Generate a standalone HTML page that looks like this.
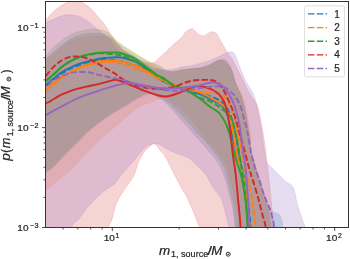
<!DOCTYPE html>
<html><head><meta charset="utf-8"><style>
html,body{margin:0;padding:0;background:#fff;width:350px;height:259px;overflow:hidden}
svg{display:block;will-change:transform}
text{font-family:"Liberation Sans",sans-serif}
</style></head><body>
<svg width="350" height="259" viewBox="0 0 350 259"><defs><clipPath id="ax"><rect x="45.5" y="1.5" width="303.0" height="226.0"/></clipPath></defs>
<g clip-path="url(#ax)">
<path d="M38.0,68.0 C39.2,66.6 43.2,61.9 45.5,59.5 C47.8,57.1 49.7,55.6 52.0,53.5 C54.3,51.4 56.9,49.0 59.4,47.0 C61.9,45.0 64.4,43.2 67.0,41.5 C69.6,39.8 72.1,38.2 74.9,37.0 C77.7,35.8 81.2,34.9 84.0,34.3 C86.8,33.7 89.3,33.3 92.0,33.2 C94.7,33.1 97.7,33.2 100.0,33.5 C102.3,33.8 104.0,34.2 106.0,35.0 C108.0,35.8 109.7,36.4 112.0,38.5 C114.3,40.6 118.1,45.4 120.0,47.5 C121.9,49.6 121.6,49.7 123.5,51.0 C125.4,52.3 129.3,54.2 131.6,55.5 C133.8,56.8 135.1,57.8 137.0,59.0 C138.9,60.2 141.0,61.3 143.2,62.5 C145.4,63.7 148.1,65.1 150.0,66.0 C151.9,66.9 153.1,67.6 154.8,68.0 C156.5,68.4 157.8,67.9 160.0,68.5 C162.2,69.1 165.5,71.0 168.0,71.5 C170.5,72.0 172.6,71.8 175.0,71.5 C177.4,71.2 179.7,70.4 182.4,70.0 C185.1,69.6 188.1,69.3 191.0,69.0 C193.9,68.7 196.9,68.6 199.8,68.0 C202.7,67.4 206.0,66.5 208.5,65.5 C211.0,64.5 213.1,62.9 215.0,62.0 C216.9,61.1 218.3,60.5 220.0,60.3 C221.7,60.1 223.7,60.3 225.0,61.0 C226.3,61.7 226.9,62.8 228.0,64.5 C229.1,66.2 230.5,68.6 231.5,71.0 C232.5,73.4 233.0,76.2 234.0,79.0 C235.0,81.8 236.4,85.3 237.5,88.0 C238.6,90.7 239.6,92.5 240.5,95.0 C241.4,97.5 242.2,100.3 243.0,103.0 C243.8,105.7 244.4,108.2 245.0,111.0 C245.6,113.8 246.2,116.8 246.8,120.0 C247.4,123.2 247.8,126.7 248.3,130.0 C248.8,133.3 249.5,136.3 250.0,140.0 C250.5,143.7 250.8,148.0 251.5,152.0 C252.2,156.0 253.5,160.0 254.5,164.0 C255.5,168.0 256.4,172.0 257.5,176.0 C258.6,180.0 259.8,184.3 261.0,188.0 C262.2,191.7 263.4,195.2 264.5,198.0 C265.6,200.8 266.6,203.0 267.5,205.0 C268.4,207.0 269.1,208.8 270.0,210.0 C270.9,211.2 271.9,211.5 273.0,212.0 C274.1,212.5 275.4,212.7 276.5,213.2 C277.6,213.7 278.9,213.9 279.7,215.0 C280.5,216.1 280.9,217.8 281.5,220.0 C282.1,222.2 282.6,223.8 283.0,228.0 C283.4,232.2 283.8,242.2 284.0,245.0 L271.0,245.0 C265.2,245.0 242.0,248.0 236.0,245.0 C230.0,242.0 235.5,232.8 235.0,227.0 C234.5,221.2 233.7,214.5 233.0,210.0 C232.3,205.5 231.6,202.7 231.0,200.0 C230.4,197.3 230.0,196.6 229.3,194.0 C228.6,191.4 227.9,187.8 227.0,184.7 C226.1,181.6 225.0,178.3 223.9,175.4 C222.8,172.5 221.9,169.7 220.5,167.0 C219.1,164.3 217.5,161.7 215.5,159.0 C213.5,156.3 210.8,153.7 208.5,151.0 C206.2,148.3 204.1,145.6 201.8,143.0 C199.6,140.4 197.1,137.9 195.0,135.5 C192.9,133.1 191.2,131.0 189.0,128.5 C186.8,126.0 184.3,123.2 182.0,120.5 C179.7,117.8 177.3,115.1 175.0,112.5 C172.7,109.9 170.2,107.2 168.0,105.0 C165.8,102.8 164.0,100.9 162.0,99.5 C160.0,98.1 158.0,97.4 156.0,96.5 C154.0,95.6 152.7,93.8 150.0,94.0 C147.3,94.2 144.7,95.2 140.0,97.5 C135.3,99.8 127.8,104.5 122.0,108.0 C116.2,111.5 110.6,114.6 105.0,118.5 C99.4,122.4 92.7,127.9 88.5,131.5 C84.3,135.1 82.9,137.1 80.0,140.0 C77.1,142.9 74.0,146.0 71.0,149.0 C68.0,152.0 64.9,155.0 62.0,158.0 C59.1,161.0 56.3,164.4 53.5,167.0 C50.7,169.6 47.6,171.5 45.0,173.5 C42.4,175.5 39.2,178.1 38.0,179.0 Z" fill="#1f77b4" fill-opacity="0.200" stroke="#1f77b4" stroke-opacity="0.180" stroke-width="0.8"/>
<path d="M38.0,70.0 C39.2,68.6 43.2,63.9 45.5,61.5 C47.8,59.1 49.7,57.6 52.0,55.5 C54.3,53.4 56.9,51.0 59.4,49.0 C61.9,47.0 64.4,45.1 67.0,43.5 C69.6,41.9 72.1,40.6 74.9,39.5 C77.7,38.4 81.2,37.6 84.0,37.0 C86.8,36.4 89.3,36.2 92.0,36.0 C94.7,35.8 97.7,35.8 100.0,36.0 C102.3,36.2 104.0,36.6 106.0,37.0 C108.0,37.4 109.7,37.2 112.0,38.5 C114.3,39.8 117.8,42.9 120.0,44.5 C122.2,46.1 123.3,46.9 125.0,48.0 C126.7,49.1 128.3,49.8 130.3,51.0 C132.3,52.2 134.8,54.1 137.0,55.5 C139.2,56.9 141.6,58.2 143.8,59.5 C146.0,60.8 148.1,62.0 150.0,63.0 C151.9,64.0 153.3,64.4 155.0,65.5 C156.7,66.6 157.8,68.4 160.0,69.5 C162.2,70.6 165.5,71.5 168.0,72.0 C170.5,72.5 172.6,72.8 175.0,72.5 C177.4,72.2 179.7,71.0 182.4,70.5 C185.1,70.0 188.1,69.8 191.0,69.5 C193.9,69.2 196.9,69.1 199.8,68.5 C202.7,67.9 206.0,67.0 208.5,66.0 C211.0,65.0 213.1,63.3 215.0,62.5 C216.9,61.7 218.3,61.0 220.0,61.0 C221.7,61.0 223.6,61.7 225.0,62.4 C226.4,63.1 227.3,63.6 228.5,65.0 C229.7,66.4 231.0,68.5 232.0,71.0 C233.0,73.5 233.5,77.0 234.6,79.8 C235.7,82.6 237.3,85.5 238.5,88.0 C239.7,90.5 241.0,92.5 242.0,95.0 C243.0,97.5 243.8,100.3 244.5,103.0 C245.2,105.7 245.9,108.3 246.5,111.0 C247.1,113.7 247.5,116.2 248.0,119.0 C248.5,121.8 249.0,125.2 249.5,128.0 C250.0,130.8 250.6,132.7 250.8,136.0 C251.0,139.3 250.0,144.0 250.5,148.0 C251.0,152.0 252.8,156.0 254.0,160.0 C255.2,164.0 256.3,168.0 257.5,172.0 C258.7,176.0 259.8,180.0 261.0,184.0 C262.2,188.0 263.4,192.0 264.5,196.0 C265.6,200.0 266.7,204.3 267.5,208.0 C268.3,211.7 268.9,214.8 269.5,218.0 C270.1,221.2 270.7,222.5 271.0,227.0 C271.3,231.5 271.4,242.0 271.5,245.0 L269.0,245.0 C264.2,245.0 245.0,248.0 240.0,245.0 C235.0,242.0 239.5,232.8 239.0,227.0 C238.5,221.2 237.7,214.5 237.0,210.0 C236.3,205.5 235.7,203.3 235.0,200.0 C234.3,196.7 233.8,193.3 233.0,190.0 C232.2,186.7 231.3,183.3 230.5,180.0 C229.7,176.7 228.8,172.3 228.1,170.0 C227.4,167.7 227.2,168.1 226.1,166.1 C225.0,164.1 223.2,160.7 221.4,158.0 C219.6,155.3 217.5,152.6 215.3,149.9 C213.2,147.2 210.7,144.3 208.5,141.8 C206.3,139.3 204.4,137.6 202.4,135.0 C200.4,132.4 198.7,129.1 196.3,126.0 C193.9,122.9 190.6,119.3 188.0,116.5 C185.4,113.7 183.3,111.1 180.9,109.0 C178.5,106.9 175.8,105.6 173.7,104.0 C171.6,102.4 169.9,100.7 168.5,99.5 C167.1,98.3 167.8,96.6 165.0,97.0 C162.2,97.4 156.2,100.4 152.0,102.0 C147.8,103.6 143.9,104.2 139.8,106.5 C135.7,108.8 131.7,112.7 127.6,116.0 C123.5,119.3 119.2,123.3 115.4,126.5 C111.6,129.7 108.4,132.0 105.0,135.0 C101.6,138.0 97.8,141.8 95.0,144.5 C92.2,147.2 90.5,148.9 88.0,151.5 C85.5,154.1 82.9,156.9 80.0,160.0 C77.1,163.1 73.4,167.4 70.7,170.0 C68.0,172.6 66.0,173.8 64.0,175.5 C62.0,177.2 60.4,178.3 58.4,180.0 C56.4,181.7 53.9,183.8 51.7,185.7 C49.5,187.6 47.3,189.6 45.0,191.5 C42.7,193.4 39.2,196.1 38.0,197.0 Z" fill="#ff7f0e" fill-opacity="0.170" stroke="#ff7f0e" stroke-opacity="0.153" stroke-width="0.8"/>
<path d="M38.0,64.5 C39.2,63.1 43.2,58.8 45.5,56.3 C47.8,53.8 49.4,51.8 51.7,49.5 C54.0,47.2 56.8,44.4 59.4,42.3 C62.0,40.2 64.6,38.3 67.2,36.8 C69.8,35.2 72.1,34.1 74.9,33.0 C77.7,31.9 81.2,30.9 84.0,30.3 C86.8,29.7 89.3,29.3 92.0,29.2 C94.7,29.1 97.7,29.4 100.0,29.8 C102.3,30.2 104.3,30.7 106.0,31.5 C107.7,32.3 108.9,33.5 110.4,34.8 C111.9,36.0 113.4,37.6 115.0,39.0 C116.6,40.4 118.3,42.0 120.0,43.3 C121.7,44.6 123.3,45.7 125.0,46.8 C126.7,47.9 128.3,48.6 130.3,49.9 C132.3,51.2 134.8,53.1 137.0,54.6 C139.2,56.1 141.6,57.4 143.8,58.6 C146.0,59.8 148.3,61.1 150.0,62.0 C151.7,62.9 152.3,63.1 154.0,63.8 C155.7,64.5 157.8,64.9 160.0,66.0 C162.2,67.1 164.5,69.7 167.0,70.5 C169.5,71.3 172.4,71.2 175.0,71.0 C177.6,70.8 179.7,69.9 182.4,69.5 C185.1,69.1 188.1,68.8 191.0,68.5 C193.9,68.2 196.9,68.2 199.8,67.6 C202.7,67.0 206.0,66.0 208.5,65.0 C211.0,64.0 213.1,62.4 215.0,61.5 C216.9,60.6 218.3,59.8 220.0,59.5 C221.7,59.2 223.6,59.1 225.0,59.8 C226.4,60.5 227.3,61.8 228.5,63.5 C229.7,65.2 231.0,67.3 232.0,70.0 C233.0,72.7 233.7,76.8 234.6,79.8 C235.5,82.8 236.4,85.5 237.5,88.0 C238.6,90.5 240.0,92.5 241.0,95.0 C242.0,97.5 242.8,100.2 243.5,103.0 C244.2,105.8 244.9,108.8 245.5,112.0 C246.1,115.2 246.8,118.7 247.3,122.0 C247.9,125.3 248.3,128.5 248.8,132.0 C249.3,135.5 249.8,139.2 250.3,143.0 C250.8,146.8 251.1,151.0 252.0,155.0 C252.9,159.0 254.3,163.2 255.5,167.0 C256.7,170.8 257.8,174.2 259.0,178.0 C260.2,181.8 261.8,186.0 263.0,190.0 C264.2,194.0 265.5,198.0 266.5,202.0 C267.5,206.0 268.3,209.8 269.0,214.0 C269.7,218.2 270.2,221.8 270.5,227.0 C270.8,232.2 270.9,242.0 271.0,245.0 L269.0,245.0 C263.7,245.0 242.5,248.0 237.0,245.0 C231.5,242.0 236.4,232.8 236.0,227.0 C235.6,221.2 235.1,214.5 234.5,210.0 C233.9,205.5 233.1,202.7 232.5,200.0 C231.9,197.3 231.6,196.5 231.0,194.0 C230.4,191.5 229.7,188.0 229.0,185.0 C228.3,182.0 227.8,178.8 227.0,176.0 C226.2,173.2 225.5,170.3 224.5,168.0 C223.5,165.7 222.0,163.7 221.0,162.0 C220.0,160.3 220.0,160.0 218.6,158.0 C217.2,156.0 214.7,152.6 212.6,149.9 C210.5,147.2 208.1,144.3 205.8,141.8 C203.5,139.3 201.1,137.3 199.0,135.0 C196.9,132.7 195.0,130.3 193.0,128.0 C191.0,125.7 189.1,123.3 187.0,121.0 C184.9,118.7 182.7,116.2 180.5,114.0 C178.3,111.8 176.2,109.6 174.0,107.5 C171.8,105.4 169.8,103.2 167.5,101.5 C165.2,99.8 162.9,98.5 160.0,97.0 C157.1,95.5 153.6,92.8 150.2,92.6 C146.8,92.4 144.4,93.7 139.8,96.0 C135.2,98.3 128.2,103.0 122.4,106.5 C116.6,110.0 110.7,113.1 105.0,117.0 C99.3,120.9 92.7,126.4 88.5,130.0 C84.3,133.6 82.7,135.8 79.8,138.7 C76.9,141.6 73.9,144.5 71.0,147.4 C68.1,150.3 65.3,153.1 62.4,156.1 C59.5,159.1 56.6,163.1 53.7,165.7 C50.8,168.3 47.6,169.8 45.0,171.7 C42.4,173.6 39.2,176.1 38.0,177.0 Z" fill="#2ca02c" fill-opacity="0.200" stroke="#2ca02c" stroke-opacity="0.180" stroke-width="0.8"/>
<path d="M38.0,30.0 C39.2,28.5 42.7,23.8 45.0,21.0 C47.3,18.2 49.7,15.3 52.0,13.0 C54.3,10.7 56.7,8.7 59.0,7.0 C61.3,5.3 64.0,4.1 66.0,3.0 C68.0,1.9 69.3,1.0 71.0,0.5 C72.7,0.0 74.5,-0.2 76.0,0.0 C77.5,0.2 78.5,0.8 80.0,1.5 C81.5,2.2 83.1,2.7 85.0,4.0 C86.9,5.3 89.6,7.4 91.6,9.3 C93.6,11.2 95.1,13.3 97.0,15.5 C98.9,17.7 101.3,20.4 103.0,22.5 C104.7,24.6 105.8,26.2 107.0,28.0 C108.2,29.8 109.0,31.4 110.0,33.0 C111.0,34.6 112.0,35.9 113.0,37.5 C114.0,39.1 114.8,41.1 116.0,42.5 C117.2,43.9 118.8,44.8 120.0,46.0 C121.2,47.2 121.8,48.6 123.5,49.9 C125.2,51.2 128.1,52.5 130.3,53.9 C132.6,55.2 134.8,56.7 137.0,58.0 C139.2,59.3 142.0,60.7 143.8,61.5 C145.6,62.3 146.8,62.5 148.0,62.8 C149.2,63.0 150.0,63.0 151.0,63.0 C152.0,63.0 153.1,62.9 153.9,62.6 C154.7,62.3 155.2,61.8 156.0,61.0 C156.8,60.2 157.5,59.4 159.0,58.0 C160.5,56.6 162.7,55.0 165.0,52.8 C167.3,50.6 170.2,47.4 172.8,45.0 C175.4,42.6 178.4,40.6 180.7,38.3 C183.0,36.0 184.8,32.6 186.7,31.0 C188.6,29.4 190.8,28.9 192.0,28.7 C193.2,28.5 192.7,28.7 193.7,29.6 C194.7,30.5 196.3,32.9 198.0,33.9 C199.7,34.9 202.0,36.0 204.0,35.7 C206.0,35.4 208.3,32.7 210.2,32.2 C212.1,31.7 213.9,31.6 215.4,32.5 C216.9,33.4 217.7,35.4 218.9,37.4 C220.1,39.4 221.3,41.8 222.7,44.3 C224.1,46.8 225.7,49.7 227.4,52.4 C229.2,55.1 231.5,57.6 233.2,60.5 C234.9,63.4 236.3,66.6 237.8,69.7 C239.3,72.8 241.0,76.0 242.4,79.0 C243.8,82.0 245.2,84.8 246.5,87.5 C247.8,90.2 249.2,92.9 250.5,95.0 C251.8,97.1 252.8,98.1 254.0,100.0 C255.2,101.9 256.3,102.9 257.4,106.2 C258.5,109.5 259.8,115.5 260.8,120.1 C261.8,124.7 262.4,129.0 263.2,134.0 C264.0,139.0 265.1,144.3 265.8,150.0 C266.5,155.7 267.0,162.7 267.6,168.0 C268.2,173.3 268.7,177.4 269.2,182.0 C269.7,186.6 270.1,190.6 270.6,195.3 C271.1,200.0 271.7,205.0 272.2,210.3 C272.7,215.6 273.4,221.2 273.7,227.0 C274.0,232.8 273.9,242.0 274.0,245.0 L276.0,245.0 C263.4,245.0 213.2,248.0 200.5,245.0 C187.8,242.0 200.0,230.4 199.6,227.0 C199.2,223.6 199.2,226.9 198.3,224.8 C197.5,222.8 195.9,218.2 194.5,214.7 C193.1,211.2 191.3,206.9 189.8,203.6 C188.3,200.2 186.8,197.0 185.5,194.6 C184.2,192.2 183.2,191.0 182.0,189.0 C180.8,187.0 179.7,184.7 178.5,182.5 C177.3,180.3 176.2,177.9 175.0,175.7 C173.8,173.4 172.8,171.4 171.6,169.0 C170.4,166.6 169.0,163.6 167.7,161.2 C166.4,158.8 165.2,156.3 163.9,154.5 C162.6,152.7 161.2,151.9 160.0,150.5 C158.8,149.1 158.1,147.1 157.0,146.0 C155.9,144.9 154.7,143.8 153.5,143.8 C152.3,143.8 151.7,144.7 150.0,146.2 C148.3,147.7 145.6,149.7 143.6,152.7 C141.6,155.7 139.5,160.2 137.9,164.0 C136.3,167.8 135.9,171.7 134.0,175.5 C132.1,179.3 129.3,182.4 126.5,186.8 C123.7,191.2 119.4,196.6 117.0,202.0 C114.6,207.4 113.5,215.0 112.1,219.2 C110.7,223.4 109.5,222.7 108.8,227.0 C108.1,231.3 119.8,242.0 108.0,245.0 C96.2,248.0 49.7,245.0 38.0,245.0 Z" fill="#d62728" fill-opacity="0.200" stroke="#d62728" stroke-opacity="0.180" stroke-width="0.8"/>
<path d="M38.0,27.0 C39.2,26.3 42.4,24.3 45.0,23.0 C47.6,21.7 50.8,20.2 53.7,19.0 C56.6,17.8 59.5,16.3 62.4,15.6 C65.3,14.9 68.1,14.7 71.0,14.8 C73.9,15.0 76.9,15.3 79.8,16.5 C82.7,17.6 85.6,19.7 88.5,21.7 C91.4,23.7 94.2,26.4 97.0,28.7 C99.8,31.0 102.8,33.7 105.0,35.6 C107.2,37.5 108.5,38.3 110.0,40.0 C111.5,41.7 112.7,44.1 114.0,45.8 C115.3,47.4 116.5,48.6 118.1,49.9 C119.7,51.2 121.5,52.2 123.5,53.5 C125.5,54.8 127.8,56.2 129.8,57.5 C131.8,58.8 133.7,60.2 135.6,61.5 C137.5,62.8 139.3,63.9 141.4,65.0 C143.5,66.1 146.1,67.2 148.0,68.0 C149.9,68.8 151.3,69.4 153.0,69.8 C154.7,70.2 156.0,70.4 158.0,70.5 C160.0,70.6 162.4,70.4 165.0,70.2 C167.6,70.0 170.8,69.9 173.7,69.3 C176.6,68.7 179.5,67.3 182.4,66.7 C185.3,66.1 188.1,66.4 191.0,65.9 C193.9,65.4 196.6,64.4 199.8,63.5 C203.0,62.6 207.1,61.5 210.0,60.5 C212.9,59.5 214.9,58.5 217.0,57.5 C219.1,56.5 221.0,55.6 222.7,54.7 C224.4,53.9 225.7,52.8 227.4,52.4 C229.2,52.0 231.7,51.4 233.2,52.4 C234.7,53.4 235.6,56.1 236.6,58.2 C237.6,60.3 238.0,62.6 239.0,65.1 C240.0,67.6 241.2,70.5 242.4,73.2 C243.6,75.9 244.7,79.0 245.9,81.3 C247.1,83.6 248.2,85.2 249.4,87.1 C250.6,89.0 252.0,91.0 252.9,92.9 C253.8,94.8 254.3,96.3 255.0,98.5 C255.7,100.7 256.2,102.4 257.0,106.0 C257.8,109.6 258.9,115.4 259.7,120.1 C260.5,124.8 261.2,129.0 262.0,134.0 C262.8,139.0 263.6,145.7 264.3,150.0 C265.0,154.3 265.4,157.7 266.0,160.0 C266.6,162.3 266.1,161.8 267.6,163.6 C269.1,165.4 272.4,168.3 275.2,171.1 C278.0,173.9 281.2,177.4 284.2,180.2 C287.2,183.0 291.0,183.4 293.3,187.7 C295.6,192.0 296.3,200.5 297.8,205.8 C299.3,211.1 301.1,215.7 302.3,219.4 C303.6,223.1 304.7,223.7 305.3,228.0 C305.9,232.3 305.9,242.2 306.0,245.0 L307.0,245.0 C294.0,245.0 242.0,248.0 229.0,245.0 C216.0,242.0 229.0,230.6 228.8,227.0 C228.7,223.4 228.6,225.8 228.1,223.7 C227.6,221.6 226.7,217.7 225.9,214.7 C225.2,211.7 224.5,208.8 223.6,205.8 C222.7,202.8 221.9,199.6 220.3,196.8 C218.7,194.0 216.1,192.1 214.0,189.0 C211.9,185.9 209.8,180.9 208.0,178.0 C206.2,175.1 204.6,173.3 203.0,171.5 C201.4,169.7 200.9,169.2 198.6,167.0 C196.3,164.8 192.2,160.4 189.0,158.3 C185.8,156.2 182.5,155.8 179.3,154.5 C176.1,153.2 172.9,152.2 169.7,150.6 C166.5,149.0 162.4,146.0 160.0,144.8 C157.6,143.6 156.5,143.6 155.0,143.5 C153.5,143.4 152.6,143.8 151.0,144.4 C149.4,145.0 148.3,144.3 145.5,147.0 C142.7,149.7 137.8,155.9 134.0,160.3 C130.2,164.7 125.9,169.8 122.7,173.6 C119.5,177.4 116.8,181.4 115.0,183.4 C113.2,185.4 113.6,184.6 112.0,185.7 C110.4,186.8 107.6,188.4 105.4,190.1 C103.2,191.8 100.9,193.6 98.7,195.7 C96.5,197.8 94.2,200.0 92.0,202.4 C89.8,204.8 87.5,207.5 85.3,210.3 C83.1,213.1 80.8,216.4 78.6,219.2 C76.3,222.0 73.2,222.7 71.8,227.0 C70.4,231.3 75.6,242.0 70.0,245.0 C64.4,248.0 43.3,245.0 38.0,245.0 Z" fill="#9467bd" fill-opacity="0.230" stroke="#9467bd" stroke-opacity="0.207" stroke-width="0.8"/>
<path d="M40.0,89.3 C40.8,88.7 42.7,87.5 45.0,85.7 C47.3,83.9 50.8,80.9 53.7,78.6 C56.6,76.2 59.5,73.6 62.4,71.8 C65.3,69.9 68.1,68.8 71.0,67.4 C73.9,66.1 76.9,64.8 79.8,63.7 C82.7,62.7 85.6,61.8 88.5,61.1 C91.4,60.3 94.5,59.6 97.2,59.1 C100.0,58.6 101.6,58.3 105.0,58.0 C108.4,57.7 113.9,57.1 117.4,57.2 C120.9,57.3 123.1,57.8 126.0,58.5 C128.9,59.2 132.3,60.4 134.8,61.5 C137.3,62.6 138.8,63.6 141.0,65.0 C143.2,66.4 145.1,67.8 148.0,70.0 C150.9,72.2 155.8,76.5 158.6,78.5 C161.4,80.5 162.5,80.8 165.0,82.0 C167.5,83.2 170.0,84.0 173.7,85.5 C177.4,87.0 183.4,89.5 187.0,90.7 C190.6,91.9 192.6,92.1 195.0,92.8 C197.4,93.5 199.5,94.0 201.6,94.8 C203.7,95.6 205.5,96.6 207.4,97.6 C209.3,98.6 211.1,99.5 213.2,100.6 C215.3,101.7 218.2,102.8 220.1,104.1 C222.0,105.4 223.2,106.5 224.5,108.5 C225.8,110.5 227.1,113.2 228.0,116.0 C228.9,118.8 229.4,122.2 230.0,125.0 C230.6,127.8 231.0,130.5 231.5,133.0 C232.0,135.5 232.5,137.2 233.2,140.0 C233.9,142.8 234.6,146.7 235.5,150.0 C236.4,153.3 237.4,156.7 238.5,160.0 C239.6,163.3 241.1,165.8 242.0,170.0 C242.9,174.2 243.3,180.0 244.0,185.0 C244.7,190.0 245.4,195.0 246.0,200.0 C246.6,205.0 247.2,210.5 247.5,215.0 C247.8,219.5 248.0,222.0 248.1,227.0 C248.2,232.0 248.3,242.0 248.3,245.0" fill="none" stroke="#1f77b4" stroke-width="1.90" stroke-linejoin="round"/>
<path d="M40.0,90.3 C40.8,89.7 41.3,89.7 45.0,86.8 C48.7,83.9 56.6,76.6 62.4,73.0 C68.2,69.3 74.0,67.0 79.8,64.8 C85.6,62.7 93.0,61.1 97.2,60.2 C101.4,59.3 100.8,59.3 105.0,59.5 C109.2,59.7 116.6,60.2 122.4,61.5 C128.2,62.8 135.5,65.4 139.8,67.0 C144.2,68.6 145.1,69.0 148.5,71.0 C151.9,73.0 155.9,76.7 160.0,79.0 C164.1,81.3 168.5,83.2 173.0,85.0 C177.5,86.8 182.5,88.6 187.0,90.0 C191.5,91.4 195.8,92.3 200.0,93.5 C204.2,94.7 208.3,95.6 212.0,97.0 C215.7,98.4 219.3,99.8 222.0,102.0 C224.7,104.2 226.3,107.0 228.0,110.0 C229.7,113.0 230.8,116.3 232.0,120.0 C233.2,123.7 234.1,127.8 235.0,132.0 C235.9,136.2 236.7,140.3 237.5,145.0 C238.3,149.7 239.0,155.0 240.0,160.0 C241.0,165.0 242.3,169.2 243.5,175.0 C244.7,180.8 246.0,188.3 247.0,195.0 C248.0,201.7 248.9,209.7 249.5,215.0 C250.1,220.3 250.2,222.0 250.5,227.0 C250.8,232.0 250.9,242.0 251.0,245.0" fill="none" stroke="#1f77b4" stroke-width="1.90" stroke-dasharray="6.2 2.4" stroke-linejoin="round"/>
<path d="M40.0,94.5 C40.8,93.8 42.7,92.4 45.0,90.5 C47.3,88.6 50.8,85.6 53.7,83.2 C56.6,80.9 59.5,78.6 62.4,76.6 C65.3,74.7 68.1,73.1 71.0,71.5 C73.9,70.0 76.9,68.6 79.8,67.4 C82.7,66.2 85.6,65.3 88.5,64.3 C91.4,63.4 94.5,62.3 97.2,61.7 C100.0,61.1 101.6,60.8 105.0,60.6 C108.4,60.4 113.9,60.4 117.4,60.7 C120.9,61.0 123.1,61.8 126.0,62.5 C128.9,63.2 132.2,64.0 134.8,65.0 C137.4,66.0 139.2,67.2 141.7,68.5 C144.2,69.8 147.2,71.3 150.0,73.0 C152.8,74.7 156.1,77.2 158.6,78.5 C161.1,79.8 162.6,79.8 165.0,81.0 C167.4,82.2 170.1,84.3 172.9,85.6 C175.7,86.8 179.2,87.8 182.0,88.5 C184.8,89.2 187.8,89.1 190.0,89.5 C192.2,89.9 193.1,90.2 195.0,90.8 C196.9,91.4 199.5,92.2 201.6,93.1 C203.7,94.0 205.5,95.0 207.4,96.0 C209.3,97.0 211.3,98.2 213.2,99.3 C215.1,100.4 217.1,101.4 219.0,102.6 C220.9,103.8 223.1,104.9 224.5,106.5 C225.9,108.1 226.6,110.0 227.5,112.0 C228.4,114.0 229.1,115.9 229.8,118.2 C230.6,120.5 231.4,123.2 232.0,126.0 C232.6,128.8 233.1,131.8 233.6,135.0 C234.1,138.2 234.3,141.3 235.0,145.0 C235.7,148.7 236.5,153.2 237.5,157.0 C238.5,160.8 239.9,164.2 241.0,168.0 C242.1,171.8 243.1,174.7 244.0,180.0 C244.9,185.3 245.8,194.2 246.5,200.0 C247.2,205.8 248.0,210.5 248.5,215.0 C249.0,219.5 249.2,222.0 249.5,227.0 C249.8,232.0 249.9,242.0 250.0,245.0" fill="none" stroke="#ff7f0e" stroke-width="1.90" stroke-linejoin="round"/>
<path d="M40.0,95.5 C40.8,94.8 41.3,94.6 45.0,91.5 C48.7,88.4 56.6,81.1 62.4,77.1 C68.2,73.2 74.0,70.3 79.8,67.9 C85.6,65.5 93.0,63.7 97.2,62.7 C101.4,61.7 100.8,61.8 105.0,62.0 C109.2,62.2 116.6,62.6 122.4,64.0 C128.2,65.4 135.2,68.6 139.8,70.2 C144.4,71.8 146.8,72.2 150.2,73.7 C153.6,75.2 156.4,77.3 160.0,79.0 C163.6,80.7 167.5,82.2 172.0,84.0 C176.5,85.8 182.3,88.2 187.0,89.5 C191.7,90.8 195.8,91.4 200.0,92.0 C204.2,92.6 209.0,92.8 212.0,93.0 C215.0,93.2 216.2,93.1 218.0,93.5 C219.8,93.9 221.2,94.2 222.8,95.5 C224.4,96.8 225.9,98.7 227.4,101.2 C228.9,103.7 230.7,107.1 232.0,110.4 C233.3,113.8 234.4,118.0 235.2,121.3 C236.0,124.6 236.3,126.9 237.0,130.0 C237.7,133.1 238.6,136.7 239.3,140.0 C240.1,143.3 240.8,146.7 241.5,150.0 C242.2,153.3 242.7,157.0 243.3,160.0 C243.9,163.0 244.1,163.8 245.0,168.0 C245.9,172.2 247.9,180.5 249.0,185.0 C250.1,189.5 250.8,190.8 251.5,195.0 C252.2,199.2 252.8,204.7 253.5,210.0 C254.2,215.3 255.1,221.2 255.5,227.0 C255.9,232.8 255.9,242.0 256.0,245.0" fill="none" stroke="#ff7f0e" stroke-width="1.90" stroke-dasharray="6.2 2.4" stroke-linejoin="round"/>
<path d="M40.0,86.5 C40.8,85.7 42.7,83.5 45.0,81.5 C47.3,79.5 50.8,76.8 53.7,74.3 C56.6,71.8 59.5,68.6 62.4,66.3 C65.3,64.1 68.1,62.4 71.0,60.8 C73.9,59.3 76.9,57.9 79.8,56.8 C82.7,55.8 85.6,55.0 88.5,54.4 C91.4,53.7 94.5,53.3 97.2,53.0 C100.0,52.7 101.6,52.6 105.0,52.5 C108.4,52.4 114.1,52.2 117.4,52.5 C120.7,52.8 122.1,53.5 125.0,54.5 C127.9,55.5 132.1,57.1 134.8,58.5 C137.5,59.9 138.7,61.3 141.0,63.0 C143.3,64.7 145.8,66.5 148.5,68.5 C151.2,70.5 154.4,73.2 157.2,75.0 C159.9,76.8 162.4,77.2 165.0,79.0 C167.6,80.8 170.2,83.8 173.0,85.5 C175.8,87.2 179.2,88.3 182.0,89.5 C184.8,90.7 187.7,91.4 190.0,92.5 C192.3,93.6 193.9,94.7 195.8,96.0 C197.7,97.3 199.7,98.6 201.6,100.1 C203.5,101.5 205.5,103.2 207.4,104.7 C209.3,106.2 211.3,107.5 213.2,108.8 C215.1,110.1 217.4,111.2 219.0,112.8 C220.6,114.4 221.7,116.4 222.8,118.2 C224.0,120.0 225.0,121.7 225.9,123.6 C226.8,125.5 227.3,127.6 228.0,129.5 C228.7,131.4 229.2,132.8 229.8,135.0 C230.4,137.2 231.1,140.2 231.8,143.0 C232.5,145.8 233.1,148.7 234.0,152.0 C234.9,155.3 236.0,159.8 237.0,163.0 C238.0,166.2 239.1,167.8 240.0,171.0 C240.9,174.2 241.6,177.5 242.5,182.0 C243.4,186.5 244.6,193.0 245.3,198.0 C246.0,203.0 246.2,207.2 246.6,212.0 C247.0,216.8 247.3,221.5 247.5,227.0 C247.7,232.5 247.8,242.0 247.8,245.0" fill="none" stroke="#2ca02c" stroke-width="1.90" stroke-linejoin="round"/>
<path d="M40.0,87.0 C40.8,86.2 42.7,84.1 45.0,82.0 C47.3,79.9 50.8,77.2 53.7,74.6 C56.6,72.0 59.5,68.7 62.4,66.5 C65.3,64.2 68.1,62.4 71.0,60.9 C73.9,59.3 76.9,58.0 79.8,57.0 C82.7,56.0 85.6,55.5 88.5,54.9 C91.4,54.3 94.5,53.7 97.2,53.5 C100.0,53.3 100.8,53.1 105.0,53.5 C109.2,53.9 116.6,54.1 122.4,55.8 C128.2,57.5 134.0,60.2 139.8,63.5 C145.6,66.8 152.8,72.8 157.0,75.5 C161.2,78.2 162.0,78.3 165.0,80.0 C168.0,81.7 171.3,83.8 175.0,85.5 C178.7,87.2 183.2,88.7 187.0,90.5 C190.8,92.3 194.8,95.1 197.5,96.5 C200.2,97.9 201.0,98.0 203.0,98.8 C205.0,99.6 207.5,100.3 209.5,101.2 C211.5,102.1 213.2,103.0 215.0,104.0 C216.8,105.0 218.3,106.2 220.0,107.5 C221.7,108.8 223.3,110.1 225.0,111.5 C226.7,112.9 228.6,113.9 229.9,115.8 C231.2,117.7 232.1,120.3 233.0,123.0 C233.9,125.7 234.6,129.2 235.3,132.0 C236.0,134.8 236.4,136.7 237.0,140.0 C237.6,143.3 238.3,147.8 239.0,152.0 C239.7,156.2 240.2,160.3 241.0,165.0 C241.8,169.7 242.8,174.5 243.5,180.0 C244.2,185.5 244.9,192.5 245.5,198.0 C246.1,203.5 246.5,208.2 247.0,213.0 C247.5,217.8 248.1,221.7 248.3,227.0 C248.6,232.3 248.5,242.0 248.5,245.0" fill="none" stroke="#2ca02c" stroke-width="1.90" stroke-dasharray="6.2 2.4" stroke-linejoin="round"/>
<path d="M40.0,107.0 C40.8,106.5 43.2,104.9 45.0,103.9 C46.8,102.9 49.3,101.7 51.0,100.8 C52.7,99.8 53.5,99.3 55.3,98.2 C57.1,97.1 59.4,95.6 62.0,94.4 C64.6,93.2 68.0,91.9 70.7,90.9 C73.4,90.0 75.4,89.4 78.0,88.7 C80.6,88.0 83.0,87.3 86.1,86.6 C89.2,85.9 93.6,85.2 96.4,84.6 C99.2,84.0 100.8,83.4 103.0,82.9 C105.2,82.3 107.4,81.7 109.3,81.2 C111.2,80.7 113.0,80.0 114.4,79.8 C115.9,79.6 116.7,79.9 118.0,80.2 C119.3,80.5 120.1,80.7 122.1,81.5 C124.1,82.3 126.3,83.3 130.0,84.8 C133.7,86.3 139.2,88.9 144.0,90.7 C148.8,92.5 154.8,94.5 158.6,95.5 C162.4,96.5 164.2,96.8 167.0,96.5 C169.8,96.2 172.4,95.2 175.7,94.0 C179.0,92.8 183.9,90.7 187.0,89.5 C190.1,88.3 191.6,87.3 194.0,86.8 C196.4,86.2 199.4,86.0 201.6,86.2 C203.8,86.4 205.5,87.2 207.4,87.9 C209.3,88.6 211.3,89.1 213.2,90.2 C215.1,91.3 217.5,92.8 219.0,94.3 C220.5,95.8 221.4,97.4 222.4,98.9 C223.4,100.4 224.1,101.7 224.8,103.5 C225.5,105.3 226.1,107.6 226.7,110.0 C227.3,112.4 227.8,115.3 228.3,118.0 C228.8,120.7 229.1,123.5 229.5,126.0 C229.9,128.5 230.2,130.7 230.5,133.0 C230.8,135.3 230.9,136.8 231.2,140.0 C231.5,143.2 232.1,148.7 232.5,152.0 C232.9,155.3 233.2,157.0 233.6,160.0 C234.0,163.0 234.6,166.7 235.1,170.0 C235.6,173.3 235.8,175.2 236.3,180.0 C236.8,184.8 237.4,192.3 238.0,198.5 C238.6,204.7 239.4,212.2 239.8,217.0 C240.2,221.8 240.3,222.3 240.5,227.0 C240.7,231.7 240.7,242.0 240.7,245.0" fill="none" stroke="#d62728" stroke-width="1.90" stroke-linejoin="round"/>
<path d="M40.0,82.5 C40.8,81.6 42.7,79.5 45.0,76.9 C47.3,74.3 50.8,69.6 53.7,66.8 C56.6,63.9 59.5,61.6 62.4,60.0 C65.3,58.3 68.1,57.3 71.0,56.8 C73.9,56.3 76.9,56.4 79.8,56.8 C82.7,57.1 85.6,57.8 88.5,58.9 C91.4,60.0 94.5,61.8 97.2,63.3 C100.0,64.8 102.2,66.4 105.0,68.0 C107.8,69.6 110.8,71.0 113.7,72.8 C116.6,74.6 119.5,77.2 122.4,79.0 C125.3,80.8 128.1,82.2 131.0,83.5 C133.9,84.8 136.9,85.7 139.8,86.5 C142.7,87.3 145.6,87.9 148.5,88.3 C151.4,88.7 154.2,89.0 157.0,89.0 C159.8,89.0 161.9,88.9 165.0,88.5 C168.1,88.1 172.0,87.5 175.7,86.4 C179.4,85.3 183.8,83.0 187.0,82.0 C190.2,81.0 192.6,80.5 195.0,80.2 C197.4,79.9 199.1,80.0 201.4,79.9 C203.7,79.9 207.0,79.8 208.9,79.9 C210.8,80.0 211.5,80.1 212.9,80.5 C214.3,80.9 216.1,81.4 217.6,82.5 C219.1,83.6 220.6,85.1 222.0,87.2 C223.4,89.3 224.6,92.1 226.0,95.0 C227.4,97.9 229.2,101.4 230.5,104.5 C231.8,107.6 232.8,110.5 233.8,113.5 C234.9,116.5 235.9,119.6 236.8,122.7 C237.7,125.8 238.4,129.1 239.2,132.0 C240.0,134.9 240.4,136.6 241.4,140.0 C242.4,143.4 243.7,147.7 245.0,152.4 C246.3,157.1 247.7,163.4 249.0,168.0 C250.3,172.6 251.2,174.9 252.8,180.0 C254.4,185.1 256.6,192.3 258.3,198.5 C260.0,204.7 261.8,212.2 263.0,217.0 C264.2,221.8 265.1,222.3 265.7,227.0 C266.3,231.7 266.4,242.0 266.5,245.0" fill="none" stroke="#d62728" stroke-width="1.90" stroke-dasharray="6.2 2.4" stroke-linejoin="round"/>
<path d="M40.0,119.3 C40.8,118.7 42.7,117.0 45.0,115.6 C47.3,114.1 50.8,112.2 53.7,110.6 C56.6,109.0 59.5,107.6 62.4,106.1 C65.3,104.6 68.1,103.0 71.0,101.5 C73.9,100.0 76.9,98.5 79.8,97.3 C82.7,96.1 85.6,95.1 88.5,94.1 C91.4,93.1 94.5,92.2 97.2,91.3 C100.0,90.4 102.2,89.5 105.0,88.7 C107.8,87.8 110.8,86.9 113.7,86.1 C116.6,85.3 119.7,84.4 122.4,83.9 C125.1,83.4 126.3,82.8 130.0,83.0 C133.7,83.2 139.5,84.6 144.3,85.4 C149.1,86.2 153.8,87.4 158.6,87.9 C163.4,88.4 168.2,88.5 172.9,88.4 C177.6,88.3 183.3,87.7 187.0,87.3 C190.7,86.9 192.6,86.7 195.0,86.3 C197.4,85.9 199.7,85.4 201.4,85.0 C203.1,84.6 203.6,84.2 205.4,83.7 C207.2,83.2 210.4,82.4 212.4,82.3 C214.4,82.2 215.9,82.6 217.6,83.3 C219.3,84.0 221.4,85.1 222.8,86.3 C224.2,87.5 225.1,88.9 226.3,90.5 C227.5,92.1 228.8,93.9 230.0,96.0 C231.2,98.1 232.5,100.5 233.5,103.0 C234.5,105.5 235.2,108.2 236.0,111.0 C236.8,113.8 237.8,116.8 238.5,120.0 C239.2,123.2 239.8,126.7 240.3,130.0 C240.8,133.3 241.1,136.3 241.5,140.0 C241.9,143.7 242.5,148.7 243.0,152.0 C243.5,155.3 244.1,157.3 244.5,160.0 C244.9,162.7 245.1,163.8 245.5,168.0 C245.9,172.2 246.5,178.8 247.0,185.0 C247.5,191.2 248.1,198.0 248.5,205.0 C248.9,212.0 249.1,220.3 249.3,227.0 C249.5,233.7 249.5,242.0 249.5,245.0" fill="none" stroke="#9467bd" stroke-width="1.90" stroke-linejoin="round"/>
<path d="M40.0,88.0 C40.8,87.4 42.7,85.8 45.0,84.4 C47.3,83.0 50.8,81.2 53.7,79.9 C56.6,78.5 59.5,77.3 62.4,76.1 C65.3,74.9 68.1,73.6 71.0,72.9 C73.9,72.2 76.9,72.1 79.8,72.0 C82.7,71.9 85.6,71.9 88.5,72.3 C91.4,72.7 94.5,73.9 97.2,74.6 C100.0,75.3 102.2,75.7 105.0,76.3 C107.8,76.9 110.8,77.4 113.7,78.0 C116.6,78.6 119.5,79.1 122.4,79.8 C125.3,80.5 128.1,81.4 131.0,82.4 C133.9,83.4 136.9,85.1 139.8,85.9 C142.7,86.8 145.4,86.9 148.5,87.5 C151.6,88.1 154.5,88.8 158.6,89.3 C162.7,89.8 168.2,90.6 172.9,90.7 C177.6,90.8 182.2,90.6 187.0,90.1 C191.8,89.6 197.6,88.5 201.4,87.9 C205.2,87.4 207.6,87.0 210.0,86.8 C212.4,86.5 213.9,86.4 215.7,86.4 C217.5,86.4 219.2,86.2 221.0,86.6 C222.8,86.9 224.8,87.5 226.5,88.5 C228.2,89.5 230.0,91.1 231.5,92.5 C233.0,93.9 234.2,95.2 235.5,97.0 C236.8,98.8 238.0,100.8 239.0,103.0 C240.0,105.2 240.8,107.2 241.7,110.0 C242.6,112.8 243.4,116.5 244.2,119.5 C245.0,122.5 245.9,125.4 246.5,128.0 C247.1,130.6 247.6,133.0 248.0,135.0 C248.4,137.0 248.3,137.1 248.8,140.0 C249.3,142.9 250.3,148.9 251.0,152.4 C251.7,155.9 252.5,158.4 253.2,161.0 C253.9,163.6 254.0,164.8 255.0,168.0 C256.0,171.2 257.8,175.5 259.3,180.0 C260.8,184.5 262.2,190.2 263.9,194.8 C265.6,199.4 268.0,204.1 269.4,207.8 C270.8,211.5 271.4,213.9 272.2,217.0 C273.0,220.1 273.6,221.6 274.0,226.3 C274.4,231.0 274.4,241.9 274.5,245.0" fill="none" stroke="#9467bd" stroke-width="1.90" stroke-dasharray="6.2 2.4" stroke-linejoin="round"/>
</g>
<rect x="45.5" y="1.5" width="303.0" height="226.0" fill="none" stroke="#333" stroke-width="1"/>
<path d="M63.0,227.5v2.0 M77.8,227.5v2.0 M90.7,227.5v2.0 M102.1,227.5v2.0 M112.3,227.5v3.5 M179.2,227.5v2.0 M218.4,227.5v2.0 M246.2,227.5v2.0 M267.8,227.5v2.0 M285.4,227.5v2.0 M300.2,227.5v2.0 M313.1,227.5v2.0 M324.5,227.5v2.0 M334.7,227.5v3.5 M45.5,227.5h-3.5 M45.5,197.4h-2.0 M45.5,179.8h-2.0 M45.5,167.3h-2.0 M45.5,157.6h-2.0 M45.5,149.7h-2.0 M45.5,143.0h-2.0 M45.5,137.2h-2.0 M45.5,132.1h-2.0 M45.5,127.6h-3.5 M45.5,97.5h-2.0 M45.5,79.9h-2.0 M45.5,67.4h-2.0 M45.5,57.7h-2.0 M45.5,49.8h-2.0 M45.5,43.1h-2.0 M45.5,37.3h-2.0 M45.5,32.2h-2.0 M45.5,27.6h-3.5" stroke="#262626" stroke-width="0.8" fill="none"/>
<text x="17.30" y="31.20" font-family="&quot;Liberation Sans&quot;, sans-serif" font-size="9.60" fill="#262626" stroke="#262626" stroke-width="0.22" textLength="11.20" lengthAdjust="spacingAndGlyphs">10</text>
<text x="30.20" y="28.20" font-family="&quot;Liberation Sans&quot;, sans-serif" font-size="6.80" fill="#262626" stroke="#262626" stroke-width="0.22" textLength="8.30" lengthAdjust="spacingAndGlyphs">−1</text>
<text x="17.30" y="131.15" font-family="&quot;Liberation Sans&quot;, sans-serif" font-size="9.60" fill="#262626" stroke="#262626" stroke-width="0.22" textLength="11.20" lengthAdjust="spacingAndGlyphs">10</text>
<text x="30.20" y="128.15" font-family="&quot;Liberation Sans&quot;, sans-serif" font-size="6.80" fill="#262626" stroke="#262626" stroke-width="0.22" textLength="8.30" lengthAdjust="spacingAndGlyphs">−2</text>
<text x="17.30" y="231.10" font-family="&quot;Liberation Sans&quot;, sans-serif" font-size="9.60" fill="#262626" stroke="#262626" stroke-width="0.22" textLength="11.20" lengthAdjust="spacingAndGlyphs">10</text>
<text x="30.20" y="228.10" font-family="&quot;Liberation Sans&quot;, sans-serif" font-size="6.80" fill="#262626" stroke="#262626" stroke-width="0.22" textLength="8.30" lengthAdjust="spacingAndGlyphs">−3</text>
<text x="103.70" y="241.10" font-family="&quot;Liberation Sans&quot;, sans-serif" font-size="9.60" fill="#262626" stroke="#262626" stroke-width="0.22" textLength="11.20" lengthAdjust="spacingAndGlyphs">10</text>
<text x="115.50" y="238.10" font-family="&quot;Liberation Sans&quot;, sans-serif" font-size="6.80" fill="#262626" stroke="#262626" stroke-width="0.22">1</text>
<text x="326.10" y="241.10" font-family="&quot;Liberation Sans&quot;, sans-serif" font-size="9.60" fill="#262626" stroke="#262626" stroke-width="0.22" textLength="11.20" lengthAdjust="spacingAndGlyphs">10</text>
<text x="337.90" y="238.10" font-family="&quot;Liberation Sans&quot;, sans-serif" font-size="6.80" fill="#262626" stroke="#262626" stroke-width="0.22">2</text>
<text x="159.00" y="254.70" font-family="&quot;Liberation Sans&quot;, sans-serif" font-size="12.50" fill="#262626" stroke="#262626" stroke-width="0.22" textLength="11.20" lengthAdjust="spacingAndGlyphs" font-style="italic">m</text>
<text x="171.00" y="257.00" font-family="&quot;Liberation Sans&quot;, sans-serif" font-size="8.80" fill="#262626" stroke="#262626" stroke-width="0.22" textLength="37.20" lengthAdjust="spacingAndGlyphs">1, source</text>
<text x="207.60" y="254.70" font-family="&quot;Liberation Sans&quot;, sans-serif" font-size="12.50" fill="#262626" stroke="#262626" stroke-width="0.22" textLength="4.60" lengthAdjust="spacingAndGlyphs">/</text>
<text x="211.20" y="254.70" font-family="&quot;Liberation Sans&quot;, sans-serif" font-size="12.50" fill="#262626" stroke="#262626" stroke-width="0.22" textLength="11.20" lengthAdjust="spacingAndGlyphs" font-style="italic">M</text>
<circle cx="228.2" cy="254.2" r="2.0" fill="none" stroke="#262626" stroke-width="0.95"/><circle cx="228.2" cy="254.2" r="0.75" fill="#262626"/>
<g transform="translate(10.3,160.8) rotate(-90)"><text x="0.00" y="0.00" font-family="&quot;Liberation Sans&quot;, sans-serif" font-size="12.00" fill="#262626" stroke="#262626" stroke-width="0.22" textLength="7.60" lengthAdjust="spacingAndGlyphs" font-style="italic">p</text><text x="8.00" y="0.00" font-family="&quot;Liberation Sans&quot;, sans-serif" font-size="12.00" fill="#262626" stroke="#262626" stroke-width="0.22" textLength="3.80" lengthAdjust="spacingAndGlyphs">(</text><text x="12.60" y="0.00" font-family="&quot;Liberation Sans&quot;, sans-serif" font-size="12.00" fill="#262626" stroke="#262626" stroke-width="0.22" textLength="10.60" lengthAdjust="spacingAndGlyphs" font-style="italic">m</text><text x="24.60" y="2.30" font-family="&quot;Liberation Sans&quot;, sans-serif" font-size="8.60" fill="#262626" stroke="#262626" stroke-width="0.22" textLength="36.20" lengthAdjust="spacingAndGlyphs">1, source</text><text x="60.60" y="0.00" font-family="&quot;Liberation Sans&quot;, sans-serif" font-size="12.00" fill="#262626" stroke="#262626" stroke-width="0.22" textLength="4.60" lengthAdjust="spacingAndGlyphs">/</text><text x="63.60" y="0.00" font-family="&quot;Liberation Sans&quot;, sans-serif" font-size="12.00" fill="#262626" stroke="#262626" stroke-width="0.22" textLength="11.00" lengthAdjust="spacingAndGlyphs" font-style="italic">M</text><circle cx="81.75" cy="-1.4" r="1.95" fill="none" stroke="#262626" stroke-width="0.95"/><circle cx="81.75" cy="-1.4" r="0.75" fill="#262626"/><text x="87.50" y="0.00" font-family="&quot;Liberation Sans&quot;, sans-serif" font-size="12.00" fill="#262626" stroke="#262626" stroke-width="0.22" textLength="3.80" lengthAdjust="spacingAndGlyphs">)</text></g>
<rect x="304.5" y="5.8" width="40" height="71" rx="2" ry="2" fill="#fff" fill-opacity="0.8" stroke="#d8d8d8" stroke-width="0.8"/>
<path d="M308,13.9H327" stroke="#1f77b4" stroke-width="1.4" stroke-dasharray="6.4 2.4"/>
<text x="334.30" y="17.50" font-family="&quot;Liberation Sans&quot;, sans-serif" font-size="10.00" fill="#262626" stroke="#262626" stroke-width="0.22">1</text>
<path d="M308,27.6H327" stroke="#ff7f0e" stroke-width="1.4" stroke-dasharray="6.4 2.4"/>
<text x="334.30" y="31.15" font-family="&quot;Liberation Sans&quot;, sans-serif" font-size="10.00" fill="#262626" stroke="#262626" stroke-width="0.22">2</text>
<path d="M308,41.2H327" stroke="#2ca02c" stroke-width="1.4" stroke-dasharray="6.4 2.4"/>
<text x="334.30" y="44.80" font-family="&quot;Liberation Sans&quot;, sans-serif" font-size="10.00" fill="#262626" stroke="#262626" stroke-width="0.22">3</text>
<path d="M308,54.9H327" stroke="#d62728" stroke-width="1.4" stroke-dasharray="6.4 2.4"/>
<text x="334.30" y="58.45" font-family="&quot;Liberation Sans&quot;, sans-serif" font-size="10.00" fill="#262626" stroke="#262626" stroke-width="0.22">4</text>
<path d="M308,68.5H327" stroke="#9467bd" stroke-width="1.4" stroke-dasharray="6.4 2.4"/>
<text x="334.30" y="72.10" font-family="&quot;Liberation Sans&quot;, sans-serif" font-size="10.00" fill="#262626" stroke="#262626" stroke-width="0.22">5</text></svg>
</body></html>
